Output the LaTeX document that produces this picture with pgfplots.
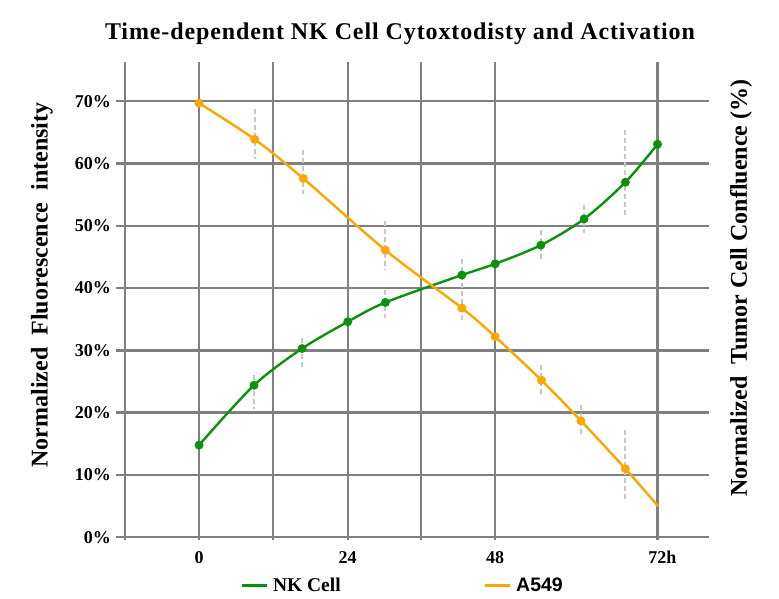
\documentclass[border=0pt]{standalone}
\usepackage{fontspec}
\setmainfont{Liberation Serif}
\newfontfamily\sansb{Liberation Sans}
\newfontfamily\titlefont[LetterSpace=3.7]{Liberation Serif}
\usepackage{pgfplots}
\pgfplotsset{compat=1.18}
\definecolor{nkgreen}{RGB}{12,145,12}
\definecolor{aorange}{RGB}{255,165,0}
\definecolor{gridgray}{RGB}{128,128,128}
\definecolor{errgray}{RGB}{200,200,200}
\begin{document}
\begin{tikzpicture}[x=1pt,y=1pt]
\path[use as bounding box] (0,0) rectangle (779,599);
\begin{axis}[
  at={(116pt,58.6pt)}, anchor=south west,
  scale only axis, width=593.3pt, height=478.4pt,
  xmin=-13.46, xmax=82.7, ymin=-0.5, ymax=76.3,
  axis line style={draw=none},
  major tick length=0pt, tick style={draw=none},
  grid=major, grid style={gridgray, line width=2.4pt},
  /pgf/number format/assume math mode=true,
  xtick={-12,0,12,24.1,36,48,74.3},
  xticklabels={,0,,24,,48,72\rlap{h}},
  ytick={0,10,...,70},
  yticklabel={\pgfmathprintnumber{\tick}\%},
  yticklabel style={font=\fontsize{18}{20}\selectfont\bfseries, anchor=east, inner sep=0pt, xshift=-5pt},
  xticklabel style={font=\fontsize{18}{20}\selectfont\bfseries, anchor=north, inner sep=0pt, yshift=-10.6pt},
  unbounded coords=jump,
  legend style={at={(axis description cs:0.4815,-0.0947)}, anchor=center, draw=none, fill=none,
    inner sep=0pt, nodes={inner sep=0pt},
    /tikz/every odd column/.append style={column sep=5pt},
    /tikz/every even column/.append style={column sep=143pt}},
  legend columns=2,
  legend image code/.code={\draw[#1, line width=2.5pt] (0pt,0pt) -- (25pt,0pt);},
]
% error bars (drawn first)
\addplot[forget plot, errgray, line width=2pt, dash pattern=on 5pt off 3pt] coordinates {
 (9,68.8) (9,60.8) (9,nan)
 (16.9,62.1) (16.9,55.1) (16.9,nan)
 (30.2,50.8) (30.2,42.9) (30.2,nan)
 (42.6,39.5) (42.6,34.7) (42.6,nan)
 (55.5,27.6) (55.5,22.8) (55.5,nan)
 (61.9,21.2) (61.9,16.5) (61.9,nan)
 (69.1,17.3) (69.1,6.1) (69.1,nan)
 (8.9,26.0) (8.9,20.6) (8.9,nan)
 (16.7,32.0) (16.7,27.3) (16.7,nan)
 (30.1,39.7) (30.1,35.2) (30.1,nan)
 (42.6,44.7) (42.6,39.5) (42.6,nan)
 (55.4,49.3) (55.4,44.7) (55.4,nan)
 (62.4,53.4) (62.4,48.9) (62.4,nan)
 (69.1,65.4) (69.1,51.5)
};
\addplot[nkgreen, line width=2.4pt, smooth, mark=*, mark size=3.2pt, mark options={solid}] coordinates {
 (0,14.8) (8.9,24.4) (16.7,30.3) (24.1,34.6) (30.2,37.7) (42.6,42.1) (48,43.9) (55.4,46.9) (62.4,51.1) (69.1,57.0) (74.3,63.1)
};
\addlegendentry{\fontsize{19.5}{22}\selectfont\bfseries NK Cell}
\addplot[aorange, line width=2.4pt, smooth, mark=*, mark size=3.2pt, mark indices={1,2,...,9}] coordinates {
 (0,69.7) (9,63.9) (16.9,57.6) (30.2,46.1) (42.6,36.8) (48,32.2) (55.5,25.2) (61.9,18.7) (69.1,11.0) (74.4,5.0)
};
\addlegendentry{\fontsize{19.5}{22}\selectfont\sansb\bfseries A549}
\end{axis}
\node[anchor=base, font=\fontsize{24}{28}\selectfont\bfseries\titlefont] at (400,559.7) {Time-dependent NK Cell Cytoxtodisty and Activation};
\node[rotate=90, font=\fontsize{24}{28}\selectfont\bfseries] at (42,314) {Normalized\hspace{0.5em}Fluorescence\hspace{0.5em}intensity};
\node[rotate=90, font=\fontsize{24}{28}\selectfont\bfseries] at (741,311) {Normalized\hspace{0.5em}Tumor Cell Confluence (\%)};
\end{tikzpicture}
\end{document}
